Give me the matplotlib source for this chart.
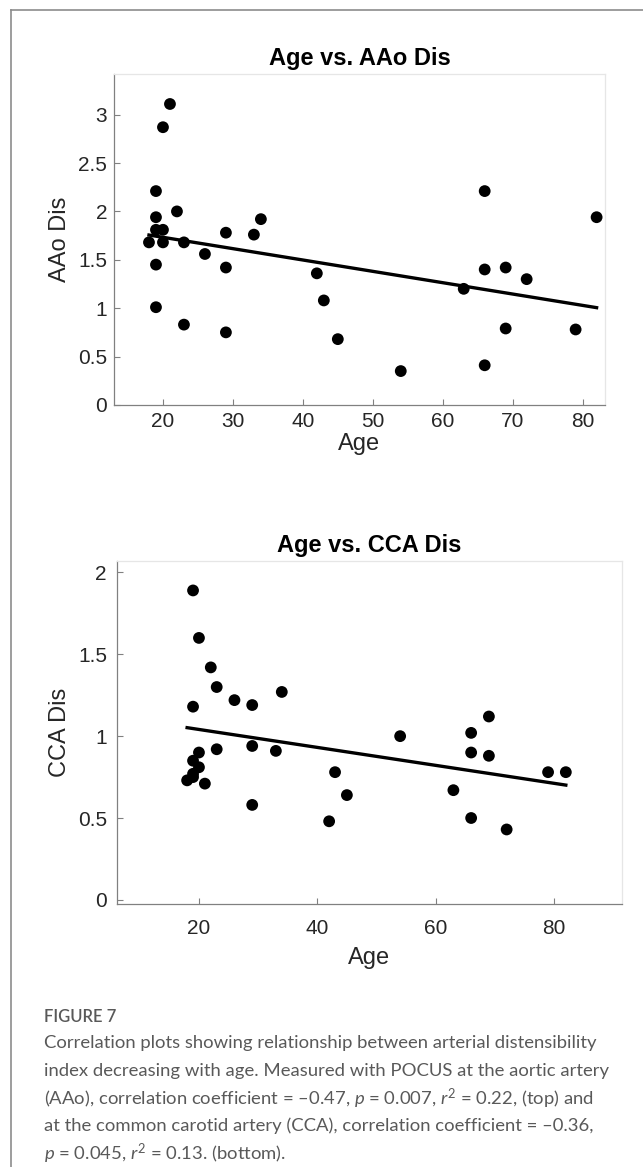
import numpy as np
import matplotlib
matplotlib.use("Agg")
import matplotlib.pyplot as plt
from matplotlib.lines import Line2D

plt.rcParams["font.family"] = ["Liberation Sans", "DejaVu Sans"]
plt.rcParams["mathtext.fontset"] = "custom"
plt.rcParams["mathtext.rm"] = "Lato"
plt.rcParams["mathtext.it"] = "Lato:italic"

# ── data ─────────────────────────────────────────────────────────────────────
aao_age = [21, 20, 19, 22, 19, 19, 20, 18, 20, 23, 26, 19, 29, 29, 33, 34,
           19, 23, 29, 42, 43, 45, 66, 82, 66, 69, 72, 63, 54, 66, 69, 79]
aao_dis = [3.11, 2.87, 2.21, 2.00, 1.94, 1.81, 1.81, 1.68, 1.68, 1.68, 1.56, 1.45,
           1.78, 1.42, 1.76, 1.92, 1.01, 0.83, 0.75, 1.36, 1.08, 0.68, 2.21, 1.94,
           1.40, 1.42, 1.30, 1.20, 0.35, 0.41, 0.79, 0.78]

cca_age = [19, 20, 22, 23, 26, 29, 34, 19, 20, 19, 20, 19, 19, 18, 21, 23,
           29, 33, 29, 43, 45, 42, 54, 66, 66, 69, 69, 63, 66, 72, 79, 82]
cca_dis = [1.89, 1.60, 1.42, 1.30, 1.22, 1.19, 1.27, 1.18, 0.90, 0.85, 0.81, 0.77,
           0.75, 0.73, 0.71, 0.92, 0.94, 0.91, 0.58, 0.78, 0.64, 0.48, 1.00, 1.02,
           0.90, 1.12, 0.88, 0.67, 0.50, 0.43, 0.78, 0.78]

panels = [
    dict(age=aao_age, dis=aao_dis, title="Age vs. AAo Dis", ylabel="AAo Dis",
         rect=[0.1773, 0.6530, 0.7636, 0.2836], xlim=(13, 83.2), ylim=(0, 3.42),
         xticks=[20, 30, 40, 50, 60, 70, 80], yticks=[0, 0.5, 1, 1.5, 2, 2.5, 3],
         xpad=5, ypad=5, xlabelpad=1.5),
    dict(age=cca_age, dis=cca_dis, title="Age vs. CCA Dis", ylabel="CCA Dis",
         rect=[0.1815, 0.2254, 0.7859, 0.2939], xlim=(6.1, 91.5), ylim=(-0.025, 2.07),
         xticks=[20, 40, 60, 80], yticks=[0, 0.5, 1, 1.5, 2],
         xpad=11, ypad=7, xlabelpad=6),
]

fig = plt.figure(figsize=(6.43, 11.67), dpi=100)

for p in panels:
    ax = fig.add_axes(p["rect"])
    x = np.asarray(p["age"], dtype=float)
    y = np.asarray(p["dis"], dtype=float)
    ax.scatter(x, y, s=72, color="black", edgecolors="none", zorder=3)
    # least-squares trend line over the observed age range
    slope, icpt = np.polyfit(x, y, 1)
    xl = np.array([x.min(), x.max()])
    ax.plot(xl, slope * xl + icpt, color="black", linewidth=2.4, zorder=2)

    ax.set_xlim(*p["xlim"])
    ax.set_ylim(*p["ylim"])
    ax.set_xticks(p["xticks"])
    ax.set_yticks(p["yticks"])
    ax.set_yticklabels([f"{v:g}" for v in p["yticks"]])
    ax.tick_params(direction="in", length=4, width=0.8, color="#808080",
                   labelsize=15, labelcolor="#262626")
    ax.tick_params(axis="x", pad=p["xpad"])
    ax.tick_params(axis="y", pad=p["ypad"])
    for side in ("left", "bottom"):
        ax.spines[side].set_color("#808080")
        ax.spines[side].set_linewidth(0.9)
    for side in ("top", "right"):
        ax.spines[side].set_color("#e6e6e6")
        ax.spines[side].set_linewidth(0.9)
    ax.set_title(p["title"], fontsize=17, fontweight="bold", pad=6.5)
    ax.set_xlabel("Age", fontsize=17, color="#262626", labelpad=p["xlabelpad"])
    ax.set_ylabel(p["ylabel"], fontsize=17, color="#262626", labelpad=5)

# outer frame (left and top edges only)
fig.add_artist(Line2D([11 / 643, 11 / 643], [0, 1 - 10 / 1167],
                      transform=fig.transFigure, color="#8c8c8c", linewidth=1.2))
fig.add_artist(Line2D([11 / 643, 1], [1 - 10 / 1167, 1 - 10 / 1167],
                      transform=fig.transFigure, color="#8c8c8c", linewidth=1.2))

# caption
cap_col = "#595959"
cap_font = dict(family=["Lato", "DejaVu Sans"], color=cap_col)
fig.text(44 / 643, 1 - 1017 / 1167, "FIGURE 7", fontsize=12, fontweight="semibold",
         va="center", ha="left", **cap_font)
caption = [
    "Correlation plots showing relationship between arterial distensibility",
    "index decreasing with age. Measured with POCUS at the aortic artery",
    "(AAo), correlation coefficient = \u20130.47, $p$ = 0.007, $r^{\\mathrm{2}}$ = 0.22, (top) and",
    "at the common carotid artery (CCA), correlation coefficient = \u20130.36,",
    "$p$ = 0.045, $r^{\\mathrm{2}}$ = 0.13. (bottom).",
]
for i, line in enumerate(caption):
    fig.text(44 / 643, 1 - (1043 + 27.7 * i) / 1167, line, fontsize=13.3,
             va="center", ha="left", **cap_font)

fig.savefig("out.png", dpi=100)
